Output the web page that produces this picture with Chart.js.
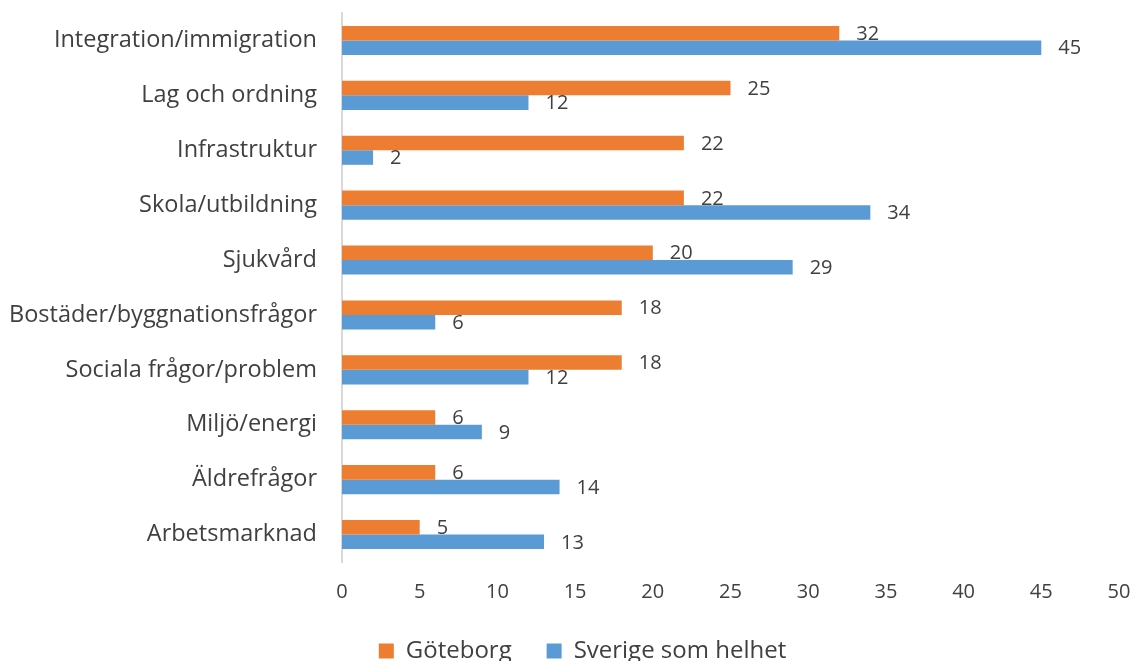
<!DOCTYPE html>
<html>
<head>
<meta charset="utf-8">
<script src="https://cdn.jsdelivr.net/npm/chart.js@4"></script>
<style>
    html, body { margin: 0; padding: 0; background: #fff; }
    #wrap { width: 1135px; height: 661px; }
</style>
</head>
<body>
<div id="wrap"><canvas id="issueChart" width="1135" height="661"></canvas></div>
<script>
const categories = [
    "Integration/immigration",
    "Lag och ordning",
    "Infrastruktur",
    "Skola/utbildning",
    "Sjukvård",
    "Bostäder/byggnationsfrågor",
    "Sociala frågor/problem",
    "Miljö/energi",
    "Äldrefrågor",
    "Arbetsmarknad"
];
const goteborg = [32, 25, 22, 22, 20, 18, 18, 6, 6, 5];
const sverige = [45, 12, 2, 34, 29, 6, 12, 9, 14, 13];
const seriesNames = ["Göteborg", "Sverige som helhet"];

const FONT = "'Open Sans', sans-serif";
const TEXT = "#404040";

// draws the value next to the end of each bar
const valueLabels = {
    id: "valueLabels",
    afterDatasetsDraw(chart) {
        const ctx = chart.ctx;
        ctx.save();
        ctx.font = "20px " + FONT;
        ctx.fillStyle = TEXT;
        ctx.textAlign = "left";
        ctx.textBaseline = "middle";
        chart.data.datasets.forEach((ds, i) => {
            const meta = chart.getDatasetMeta(i);
            meta.data.forEach((bar, j) => {
                ctx.fillText(ds.data[j], bar.x + 17, bar.y + 1);
            });
        });
        ctx.restore();
    }
};

// the legend sits a bit right of the canvas centre in the original
const legendShift = {
    id: "legendShift",
    afterLayout(chart) {
        if (chart.legend) {
            chart.legend.left += 23;
            chart.legend.right += 23;
        }
    }
};

new Chart(document.getElementById("issueChart"), {
    type: "bar",
    data: {
        labels: categories,
        datasets: [
            {
                label: seriesNames[0],
                data: goteborg,
                backgroundColor: "#ED7D31",
                categoryPercentage: 0.53,
                barPercentage: 1.0
            },
            {
                label: seriesNames[1],
                data: sverige,
                backgroundColor: "#5B9BD5",
                categoryPercentage: 0.53,
                barPercentage: 1.0
            }
        ]
    },
    options: {
        indexAxis: "y",
        responsive: false,
        animation: false,
        layout: {
            autoPadding: false,
            padding: { top: 13, right: 16, left: 0, bottom: -12 }
        },
        plugins: {
            legend: {
                position: "bottom",
                labels: {
                    font: { family: FONT, size: 24 },
                    color: TEXT,
                    boxWidth: 15,
                    boxHeight: 15,
                    padding: 10,
                    generateLabels(chart) {
                        const items = Chart.defaults.plugins.legend.labels.generateLabels(chart);
                        // wider gap between the two legend entries
                        items.forEach((it, i) => {
                            it.lineWidth = 0;
                            if (i < items.length - 1) it.text += "\u00A0\u00A0\u00A0\u00A0";
                        });
                        return items;
                    }
                }
            },
            tooltip: { enabled: false }
        },
        scales: {
            x: {
                min: 0,
                max: 50,
                ticks: {
                    stepSize: 5,
                    padding: 18,
                    color: TEXT,
                    font: { family: FONT, size: 20 }
                },
                grid: { display: false, drawTicks: false },
                border: { display: false },
                afterFit(scale) {
                    scale.height = 67;
                    scale.paddingLeft = 0;
                    scale.paddingRight = 0;
                }
            },
            y: {
                ticks: {
                    padding: 25,
                    color: TEXT,
                    font: { family: FONT, size: 23.5 }
                },
                grid: { display: false, drawTicks: false },
                border: { display: true, color: "#D9D9D9", width: 2 },
                afterFit(scale) {
                    scale.width = 342;
                    scale.paddingTop = 0;
                    scale.paddingBottom = 0;
                }
            }
        }
    },
    plugins: [valueLabels, legendShift]
});
</script>
</body>
</html>
